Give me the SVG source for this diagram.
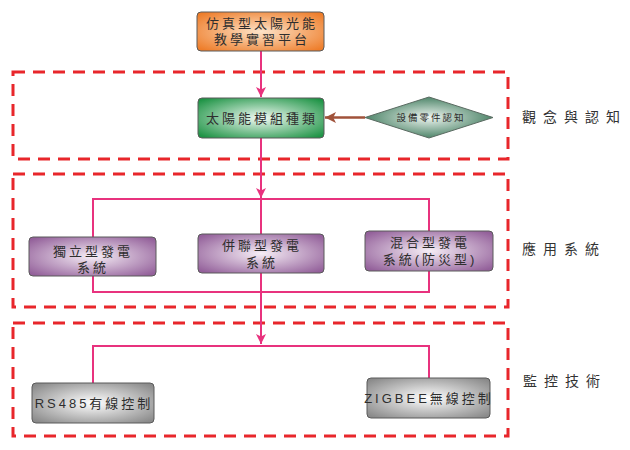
<svg xmlns="http://www.w3.org/2000/svg" width="630" height="450" viewBox="0 0 630 450">
<style>
.zone{fill:none;stroke:#e8262b;stroke-width:3;stroke-dasharray:12 8}
.box{stroke:#5a5a5a;stroke-width:1}
.t{font-family:"Liberation Sans","Noto Sans CJK TC",sans-serif;font-size:13px;fill:#2e2e2e;text-anchor:middle;letter-spacing:3px}
.side{font-family:"Liberation Sans","Noto Sans CJK TC",sans-serif;font-size:14px;fill:#333;letter-spacing:7px}
.pk{fill:none;stroke:#e8327e;stroke-width:2}
</style>
<defs>
<radialGradient id="gOr" cx="50%" cy="50%" r="65%"><stop offset="0" stop-color="#fde3c8"/><stop offset="1" stop-color="#ee7d2a"/></radialGradient>
<radialGradient id="gGr" cx="50%" cy="50%" r="65%"><stop offset="0" stop-color="#f2faf4"/><stop offset="1" stop-color="#1f9446"/></radialGradient>
<radialGradient id="gPu" cx="50%" cy="50%" r="65%"><stop offset="0" stop-color="#f6eef6"/><stop offset="1" stop-color="#93609a"/></radialGradient>
<radialGradient id="gGy" cx="50%" cy="50%" r="65%"><stop offset="0" stop-color="#ffffff"/><stop offset="1" stop-color="#8a8a8a"/></radialGradient>
<radialGradient id="gDi" cx="50%" cy="50%" r="55%"><stop offset="0" stop-color="#eef5f0"/><stop offset="1" stop-color="#3e7a5c"/></radialGradient>
<marker id="aP" viewBox="0 0 10 10" refX="10" refY="5" markerWidth="10" markerHeight="10" markerUnits="userSpaceOnUse" orient="auto"><path d="M0,0 L10,5 L0,10 L2.5,5 z" fill="#e8327e"/></marker>
<marker id="aB" viewBox="0 0 10 10" refX="10" refY="5" markerWidth="11" markerHeight="11" markerUnits="userSpaceOnUse" orient="auto"><path d="M0,0 L10,5 L0,10 L2.5,5 z" fill="#a0523a"/></marker>
</defs>

<g id="zones">
<rect class="zone" x="13" y="72" width="495" height="87"/>
<rect class="zone" x="13" y="174" width="495" height="133"/>
<rect class="zone" x="13" y="323" width="495" height="113"/>
</g>

<g id="connectors">
<line class="pk" x1="261" y1="51" x2="261" y2="97" marker-end="url(#aP)"/>
<line class="pk" x1="261" y1="138" x2="261" y2="198" marker-end="url(#aP)"/>
<line class="pk" x1="261" y1="198" x2="261" y2="234"/>
<polyline class="pk" points="93,237 93,199 429,199 429,231"/>
<polyline class="pk" points="93,276 93,292 429,292 429,271"/>
<line class="pk" x1="261" y1="273" x2="261" y2="344" marker-end="url(#aP)"/>
<polyline class="pk" points="93,383 93,346 429,346 429,378"/>
<line x1="365" y1="117.5" x2="325" y2="117.5" stroke="#a0523a" stroke-width="2.5" marker-end="url(#aB)"/>
</g>

<g id="n-platform">
<rect class="box" x="197" y="12" width="127" height="39" rx="4" fill="url(#gOr)"/>
<text class="t"><tspan x="262" y="28">仿真型太陽光能</tspan><tspan x="262" y="44">教學實習平台</tspan></text>
</g>

<g id="n-module">
<rect class="box" x="198" y="98" width="126" height="40" rx="4" fill="url(#gGr)"/>
<text class="t" x="262" y="122.5">太陽能模組種類</text>
</g>

<g id="n-parts">
<polygon points="365,117.5 429,97 493,117.5 429,138" fill="url(#gDi)" stroke="#5b6b62" stroke-width="1"/>
<text x="431" y="121" font-family="'Liberation Sans','Noto Sans CJK TC',sans-serif" font-size="9.5" fill="#2b2b2b" text-anchor="middle" letter-spacing="2">設備零件認知</text>
</g>

<g id="n-standalone">
<rect class="box" x="29" y="237" width="127" height="39" rx="4" fill="url(#gPu)"/>
<text class="t"><tspan x="93" y="256">獨立型發電</tspan><tspan x="93" y="272">系統</tspan></text>
</g>

<g id="n-grid">
<rect class="box" x="198" y="234" width="126" height="39" rx="4" fill="url(#gPu)"/>
<text class="t"><tspan x="262" y="250">併聯型發電</tspan><tspan x="262" y="267">系統</tspan></text>
</g>

<g id="n-hybrid">
<rect class="box" x="365" y="231" width="128" height="40" rx="4" fill="url(#gPu)"/>
<text class="t"><tspan x="430" y="247">混合型發電</tspan><tspan x="430" y="264">系統(防災型)</tspan></text>
</g>

<g id="n-rs485">
<rect class="box" x="32" y="383" width="122" height="40" rx="4" fill="url(#gGy)"/>
<text class="t" x="94" y="408" letter-spacing="1.5">RS485有線控制</text>
</g>

<g id="n-zigbee">
<rect class="box" x="367" y="378" width="123" height="40" rx="4" fill="url(#gGy)"/>
<text class="t" x="429" y="403" letter-spacing="1">ZIGBEE無線控制</text>
</g>

<g id="labels">
<text class="side" x="522" y="122">觀念與認知</text>
<text class="side" x="522" y="254">應用系統</text>
<text class="side" x="523" y="386">監控技術</text>
</g>
</svg>
